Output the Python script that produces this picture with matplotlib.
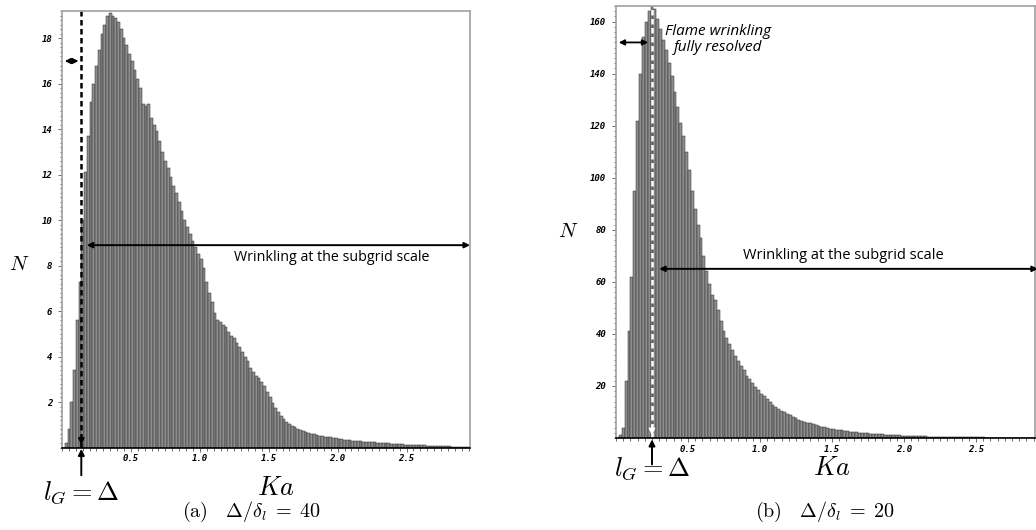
import numpy as np
import matplotlib
matplotlib.use("Agg")
import matplotlib.pyplot as plt
from matplotlib.ticker import MultipleLocator

plt.rcParams['mathtext.fontset'] = 'cm'

# histogram bins: width 0.02 in Ka, starting at 0
bin_width = 0.02

# (a) Delta/delta_l = 40
counts_a = [
    0, 0.2, 0.8, 2.0, 3.4, 5.6, 7.3, 10.0, 12.1, 13.7,
    15.2, 16.0, 16.8, 17.5, 18.2, 18.6, 19.0, 19.1, 19.0, 18.9,
    18.7, 18.4, 18.0, 17.7, 17.3, 17.0, 16.6, 16.2, 15.8, 15.1,
    15.0, 15.1, 14.5, 14.2, 13.9, 13.5, 13.0, 12.6, 12.3, 11.9,
    11.5, 11.2, 10.8, 10.4, 10.0, 9.7, 9.4, 9.1, 8.8, 8.5,
    8.3, 7.9, 7.3, 6.8, 6.4, 5.9, 5.6, 5.5, 5.4, 5.3,
    5.1, 4.9, 4.8, 4.6, 4.4, 4.2, 4.0, 3.8, 3.5, 3.3,
    3.15, 3.05, 2.9, 2.7, 2.45, 2.2, 1.95, 1.75, 1.55, 1.38,
    1.25, 1.12, 1.03, 0.95, 0.88, 0.81, 0.77, 0.73, 0.68, 0.64,
    0.61, 0.58, 0.55, 0.52, 0.5, 0.48, 0.46, 0.44, 0.42, 0.4,
    0.39, 0.37, 0.35, 0.33, 0.32, 0.3, 0.29, 0.28, 0.27, 0.26,
    0.25, 0.24, 0.23, 0.22, 0.21, 0.2, 0.2, 0.19, 0.18, 0.17,
    0.16, 0.16, 0.15, 0.14, 0.13, 0.12, 0.12, 0.11, 0.1, 0.1,
    0.09, 0.09, 0.08, 0.08, 0.07, 0.07, 0.06, 0.06, 0.05, 0.05,
    0.05, 0.04, 0.04, 0.04, 0.03, 0.03, 0.03, 0.02, 0.02, 0.02,
]

# (b) Delta/delta_l = 20
counts_b = [
    0, 1, 4, 22, 41, 62, 95, 122, 140, 154,
    160, 164, 166, 165, 161, 157, 153, 149, 144, 139,
    133, 127, 121, 116, 110, 103, 95, 88, 82, 77,
    70, 64, 59, 55, 53, 49, 45, 41, 38.5, 36,
    34, 31.5, 29.5, 27.5, 26, 24, 22.5, 21, 19.5, 18.3,
    17, 16, 14.8, 13.8, 12.8, 12, 11.2, 10.5, 9.9, 9.3,
    8.7, 8.1, 7.6, 7.1, 6.7, 6.3, 5.9, 5.6, 5.2, 4.9,
    4.6, 4.3, 4.1, 3.8, 3.6, 3.4, 3.2, 3.0, 2.9, 2.7,
    2.6, 2.4, 2.3, 2.2, 2.1, 2.0, 1.9, 1.8, 1.7, 1.6,
    1.5, 1.45, 1.4, 1.3, 1.25, 1.2, 1.1, 1.05, 1.0, 0.95,
    0.9, 0.85, 0.8, 0.75, 0.72, 0.68, 0.64, 0.6, 0.57, 0.54,
    0.51, 0.48, 0.45, 0.43, 0.4, 0.38, 0.36, 0.34, 0.32, 0.3,
    0.29, 0.27, 0.26, 0.24, 0.23, 0.22, 0.21, 0.2, 0.19, 0.18,
    0.17, 0.16, 0.15, 0.14, 0.14, 0.13, 0.12, 0.12, 0.11, 0.1,
    0.1, 0.09, 0.09, 0.08, 0.08, 0.07,
]

xticks = [0.5, 1.0, 1.5, 2.0, 2.5]
yticks_a = [2, 4, 6, 8, 10, 12, 14, 16, 18]
yticks_b = [20, 40, 60, 80, 100, 120, 140, 160]

lg_a = 0.14     # l_G = Delta, case (a)
lg_b = 0.25     # l_G = Delta, case (b)
caption_a = r"$\mathrm{(a)}\quad \Delta/\delta_l \;=\; 40$"
caption_b = r"$\mathrm{(b)}\quad \Delta/\delta_l \;=\; 20$"
note_text = "Wrinkling at the subgrid scale"
resolved_text = "Flame wrinkling\nfully resolved"

W, H = 1036, 530
fig = plt.figure(figsize=(W / 100, H / 100), dpi=100)
ax_a = fig.add_axes([62 / W, (H - 447.5) / H, 408 / W, 436.5 / H])
ax_b = fig.add_axes([616 / W, (H - 438) / H, 419 / W, 432 / H])

tickfont = dict(family='DejaVu Sans Mono', style='italic', weight='bold', size=6.5)
notefont = ['Open Sans', 'DejaVu Sans']


def histo(ax, counts, xmax, ymax, yticks, yminor):
    edges = np.arange(len(counts)) * bin_width
    ax.bar(edges, counts, width=bin_width, align='edge', color='#8e8e8e',
           edgecolor='#2b2b2b', linewidth=0.35)
    ax.set_xlim(0, xmax)
    ax.set_ylim(0, ymax)
    ax.set_xticks(xticks)
    ax.set_yticks(yticks)
    ax.xaxis.set_minor_locator(MultipleLocator(0.05))
    ax.yaxis.set_minor_locator(MultipleLocator(yminor))
    ax.tick_params(which='both', direction='out', colors='#555555', width=0.6)
    ax.tick_params(which='major', length=3)
    ax.tick_params(which='minor', length=1.8)
    for lab in ax.get_xticklabels() + ax.get_yticklabels():
        lab.set(**tickfont, color='black')
    ax.tick_params(axis='x', pad=2)
    ax.tick_params(axis='y', pad=4)
    for s in ['top', 'right', 'left']:
        ax.spines[s].set_color('#a0a0a0')
        ax.spines[s].set_linewidth(1.2)
    ax.spines['bottom'].set_color('black')
    ax.spines['bottom'].set_linewidth(1.2)


histo(ax_a, counts_a, 2.96, 19.2, yticks_a, 0.2)
histo(ax_b, counts_b, 2.91, 166, yticks_b, 2)

# (a) annotations
ax_a.axvline(lg_a, color='black', ls=(0, (2.2, 1.4)), lw=1.8)
ax_a.annotate('', xy=(lg_a, 0), xytext=(lg_a, 0.6),
              arrowprops=dict(arrowstyle='-|>', color='black', lw=1.2, mutation_scale=9))
ax_a.annotate('', xy=(0, 17), xytext=(lg_a, 17),
              arrowprops=dict(arrowstyle='<|-|>', color='black', lw=1.3, mutation_scale=8))
ax_a.annotate('', xy=(0.18, 8.9), xytext=(2.96, 8.9), annotation_clip=False,
              arrowprops=dict(arrowstyle='<|-|>', color='black', lw=1.4, mutation_scale=8,
                              shrinkA=0, shrinkB=0))
ax_a.text(1.96, 8.35, note_text, ha='center', va='center', fontsize=10.3, family=notefont)
ax_a.annotate('', xy=(lg_a, 0), xycoords='data', xytext=(0, -20), textcoords='offset points',
              annotation_clip=False,
              arrowprops=dict(arrowstyle='-|>', color='black', lw=1.4, mutation_scale=9,
                              shrinkA=0, shrinkB=1))
ax_a.text(lg_a, -0.103, r"$l_G = \Delta$", transform=ax_a.get_xaxis_transform(),
          ha='center', va='center', fontsize=19)
ax_a.text(1.55, -0.092, r"$Ka$", transform=ax_a.get_xaxis_transform(),
          ha='center', va='center', fontsize=19)
ax_a.text(-0.105, 0.42, r"$N$", transform=ax_a.transAxes,
          ha='center', va='center', fontsize=15)

# (b) annotations
ax_b.axvline(lg_b, color='white', ls=(0, (2.2, 1.4)), lw=1.8)
ax_b.annotate('', xy=(lg_b, 0), xytext=(lg_b, 6),
              arrowprops=dict(arrowstyle='-|>', color='white', lw=1.2, mutation_scale=9))
ax_b.annotate('', xy=(0, 152), xytext=(0.243, 152),
              arrowprops=dict(arrowstyle='<|-|>', color='black', lw=1.3, mutation_scale=8))
ax_b.annotate('', xy=(0.3, 65), xytext=(2.93, 65), annotation_clip=False,
              arrowprops=dict(arrowstyle='<|-|>', color='black', lw=1.4, mutation_scale=8,
                              shrinkA=0, shrinkB=0))
ax_b.text(1.58, 70, note_text, ha='center', va='center', fontsize=10.5, family=notefont)
ax_b.text(0.71, 153, resolved_text, ha='center', va='center', fontsize=11,
          style='italic', family=notefont, linespacing=1.1)
ax_b.annotate('', xy=(lg_b, 0), xycoords='data', xytext=(0, -19), textcoords='offset points',
              annotation_clip=False,
              arrowprops=dict(arrowstyle='-|>', color='black', lw=1.4, mutation_scale=9,
                              shrinkA=0, shrinkB=1))
ax_b.text(lg_b, -0.07, r"$l_G = \Delta$", transform=ax_b.get_xaxis_transform(),
          ha='center', va='center', fontsize=19)
ax_b.text(1.5, -0.07, r"$Ka$", transform=ax_b.get_xaxis_transform(),
          ha='center', va='center', fontsize=19)
ax_b.text(-0.115, 0.48, r"$N$", transform=ax_b.transAxes,
          ha='center', va='center', fontsize=15)

fig.text(251 / W, 1 - 512 / H, caption_a, ha='center', va='center', fontsize=14.5)
fig.text(825 / W, 1 - 512 / H, caption_b, ha='center', va='center', fontsize=14.5)

fig.savefig('out.png', dpi=100)
